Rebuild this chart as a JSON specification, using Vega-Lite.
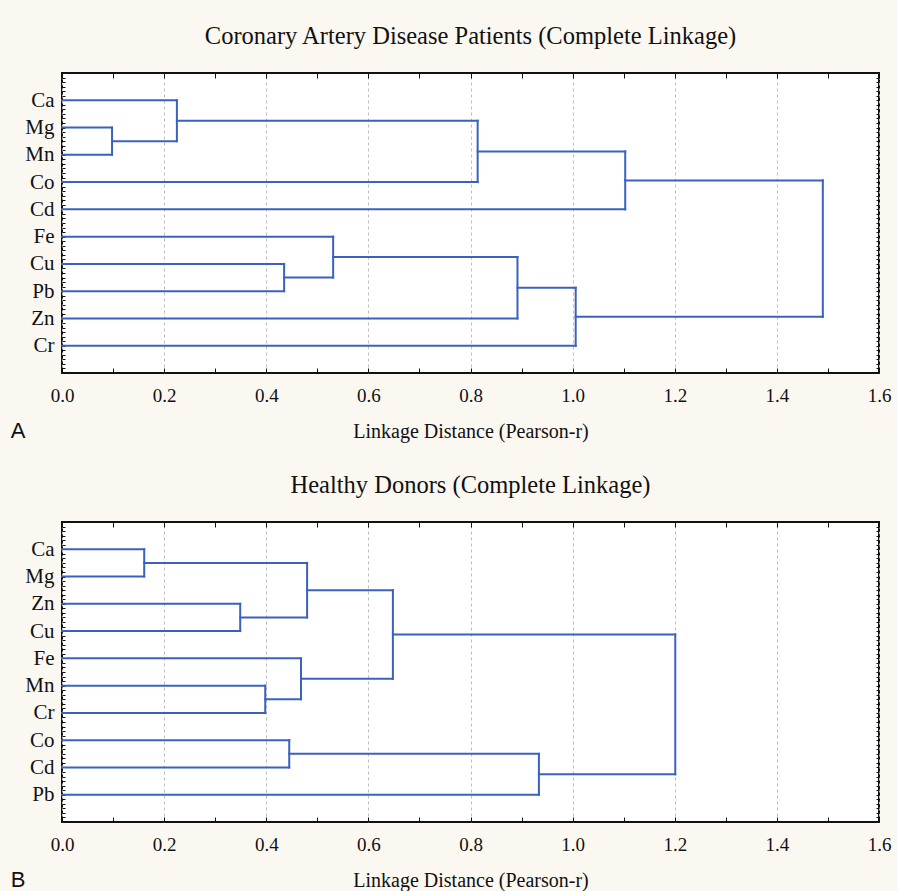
{
  "$schema": "https://vega.github.io/schema/vega-lite/v6.json",
  "background": "#fbf8f1",
  "padding": {"left": 10, "top": 22, "right": 5, "bottom": 0},
  "config": {
    "view": {"fill": "white", "stroke": "#111111", "strokeWidth": 2},
    "title": {"font": "Liberation Serif", "fontSize": 24.5, "fontWeight": "normal", "color": "#111111"}
  },
  "datasets": {
    "A": [
      {"h": 0.098, "ya": 2, "yb": 3, "ha": 0, "hb": 0},
      {"h": 0.225, "ya": 1, "yb": 2.5, "ha": 0, "hb": 0.098},
      {"h": 0.814, "ya": 1.75, "yb": 4, "ha": 0.225, "hb": 0},
      {"h": 1.103, "ya": 2.875, "yb": 5, "ha": 0.814, "hb": 0},
      {"h": 0.435, "ya": 7, "yb": 8, "ha": 0, "hb": 0},
      {"h": 0.531, "ya": 6, "yb": 7.5, "ha": 0, "hb": 0.435},
      {"h": 0.892, "ya": 6.75, "yb": 9, "ha": 0.531, "hb": 0},
      {"h": 1.006, "ya": 7.875, "yb": 10, "ha": 0.892, "hb": 0},
      {"h": 1.49, "ya": 3.9375, "yb": 8.9375, "ha": 1.103, "hb": 1.006}
    ],
    "B": [
      {"h": 0.161, "ya": 1, "yb": 2, "ha": 0, "hb": 0},
      {"h": 0.349, "ya": 3, "yb": 4, "ha": 0, "hb": 0},
      {"h": 0.48, "ya": 1.5, "yb": 3.5, "ha": 0.161, "hb": 0.349},
      {"h": 0.398, "ya": 6, "yb": 7, "ha": 0, "hb": 0},
      {"h": 0.468, "ya": 5, "yb": 6.5, "ha": 0, "hb": 0.398},
      {"h": 0.648, "ya": 2.5, "yb": 5.75, "ha": 0.48, "hb": 0.468},
      {"h": 0.445, "ya": 8, "yb": 9, "ha": 0, "hb": 0},
      {"h": 0.934, "ya": 8.5, "yb": 10, "ha": 0.445, "hb": 0},
      {"h": 1.201, "ya": 4.125, "yb": 9.25, "ha": 0.648, "hb": 0.934}
    ]
  },
  "spacing": 29,
  "vconcat": [
    {
      "title": {"text": "A", "orient": "bottom", "anchor": "start", "font": "Liberation Sans", "fontSize": 22, "dx": -13, "dy": -25, "color": "#111111"},
      "vconcat": [
        {
          "width": 817, "height": 300,
          "title": {"text": "Coronary Artery Disease Patients (Complete Linkage)", "offset": 13},
          "data": {"name": "A"},
          "layer": [
            {
              "mark": {"type": "rule", "color": "#3a62bd", "strokeWidth": 2, "strokeCap": "square"},
              "encoding": {
                "x": {"field": "h", "type": "quantitative", "scale": {"domain": [0, 1.6], "nice": false, "zero": false},
                  "axis": {"orient": "bottom", "values": [0,0.1,0.2,0.3,0.4,0.5,0.6,0.7,0.8,0.9,1,1.1,1.2,1.3,1.4,1.5,1.6],
                    "labelExpr": "abs(datum.value*5-round(datum.value*5))<0.01 ? format(datum.value,'.1f') : ''",
                    "labelFont": "Liberation Serif", "labelFontSize": 19, "labelColor": "#111111", "labelFlush": false, "labelOverlap": false,
                    "tickSize": -5, "tickColor": "#111111", "tickWidth": 1, "labelPadding": 18, "domain": false,
                    "grid": true, "gridColor": "#bdbdbd", "gridDash": [3, 3], "gridWidth": 1,
                    "gridOpacity": {"condition": {"test": "abs(datum.value*5-round(datum.value*5))>0.01", "value": 0}, "value": 1},
                    "title": "Linkage Distance (Pearson-r)", "titleFont": "Liberation Serif", "titleFontSize": 20, "titleFontWeight": "normal", "titleColor": "#111111", "titlePadding": 16}},
                "y": {"field": "ya", "type": "quantitative", "scale": {"domain": [0, 11], "reverse": true, "nice": false, "zero": false},
                  "axis": {"orient": "left", "values": [0,0.1667,0.3333,0.5,0.6667,0.8333,1,1.1667,1.3333,1.5,1.6667,1.8333,2,2.1667,2.3333,2.5,2.6667,2.8333,3,3.1667,3.3333,3.5,3.6667,3.8333,4,4.1667,4.3333,4.5,4.6667,4.8333,5,5.1667,5.3333,5.5,5.6667,5.8333,6,6.1667,6.3333,6.5,6.6667,6.8333,7,7.1667,7.3333,7.5,7.6667,7.8333,8,8.1667,8.3333,8.5,8.6667,8.8333,9,9.1667,9.3333,9.5,9.6667,9.8333,10,10.1667,10.3333,10.5,10.6667,10.8333,11],
                    "labelExpr": "abs(datum.value-round(datum.value))<0.01 && datum.value>0.5 && datum.value<10.5 ? ['','Ca','Mg','Mn','Co','Cd','Fe','Cu','Pb','Zn','Cr'][round(datum.value)] : ''",
                    "labelFont": "Liberation Serif", "labelFontSize": 21, "labelColor": "#111111", "labelFlush": false, "labelOverlap": false,
                    "tickSize": -3, "tickColor": "#111111", "tickWidth": 1, "labelPadding": 11, "domain": false, "grid": false, "title": null}},
                "y2": {"field": "yb"}
              }
            },
            {
              "mark": {"type": "rule", "color": "#3a62bd", "strokeWidth": 2, "strokeCap": "square"},
              "encoding": {
                "x": {"field": "ha", "type": "quantitative", "axis": null},
                "x2": {"field": "h"},
                "y": {"field": "ya", "type": "quantitative", "axis": null}
              }
            },
            {
              "mark": {"type": "rule", "color": "#3a62bd", "strokeWidth": 2, "strokeCap": "square"},
              "encoding": {
                "x": {"field": "hb", "type": "quantitative", "axis": null},
                "x2": {"field": "h"},
                "y": {"field": "yb", "type": "quantitative", "axis": null}
              }
            },
            {
              "mark": {"type": "rule", "opacity": 0},
              "encoding": {
                "x": {"field": "h", "type": "quantitative",
                  "axis": {"orient": "top", "values": [0,0.1,0.2,0.3,0.4,0.5,0.6,0.7,0.8,0.9,1,1.1,1.2,1.3,1.4,1.5,1.6], "labels": false, "tickSize": -5, "tickColor": "#111111", "domain": false, "grid": false, "title": null}},
                "y": {"field": "ya", "type": "quantitative",
                  "axis": {"orient": "right", "values": [0,0.1667,0.3333,0.5,0.6667,0.8333,1,1.1667,1.3333,1.5,1.6667,1.8333,2,2.1667,2.3333,2.5,2.6667,2.8333,3,3.1667,3.3333,3.5,3.6667,3.8333,4,4.1667,4.3333,4.5,4.6667,4.8333,5,5.1667,5.3333,5.5,5.6667,5.8333,6,6.1667,6.3333,6.5,6.6667,6.8333,7,7.1667,7.3333,7.5,7.6667,7.8333,8,8.1667,8.3333,8.5,8.6667,8.8333,9,9.1667,9.3333,9.5,9.6667,9.8333,10,10.1667,10.3333,10.5,10.6667,10.8333,11], "labels": false, "tickSize": -3, "tickColor": "#111111", "domain": false, "grid": false, "title": null}}
              }
            }
          ],
          "resolve": {"axis": {"x": "independent", "y": "independent"}}
        }
      ]
    },
    {
      "title": {"text": "B", "orient": "bottom", "anchor": "start", "font": "Liberation Sans", "fontSize": 22, "dx": -13, "dy": -25, "color": "#111111"},
      "vconcat": [
        {
          "width": 817, "height": 300,
          "title": {"text": "Healthy Donors (Complete Linkage)", "offset": 13},
          "data": {"name": "B"},
          "layer": [
            {
              "mark": {"type": "rule", "color": "#3a62bd", "strokeWidth": 2, "strokeCap": "square"},
              "encoding": {
                "x": {"field": "h", "type": "quantitative", "scale": {"domain": [0, 1.6], "nice": false, "zero": false},
                  "axis": {"orient": "bottom", "values": [0,0.1,0.2,0.3,0.4,0.5,0.6,0.7,0.8,0.9,1,1.1,1.2,1.3,1.4,1.5,1.6],
                    "labelExpr": "abs(datum.value*5-round(datum.value*5))<0.01 ? format(datum.value,'.1f') : ''",
                    "labelFont": "Liberation Serif", "labelFontSize": 19, "labelColor": "#111111", "labelFlush": false, "labelOverlap": false,
                    "tickSize": -5, "tickColor": "#111111", "tickWidth": 1, "labelPadding": 18, "domain": false,
                    "grid": true, "gridColor": "#bdbdbd", "gridDash": [3, 3], "gridWidth": 1,
                    "gridOpacity": {"condition": {"test": "abs(datum.value*5-round(datum.value*5))>0.01", "value": 0}, "value": 1},
                    "title": "Linkage Distance (Pearson-r)", "titleFont": "Liberation Serif", "titleFontSize": 20, "titleFontWeight": "normal", "titleColor": "#111111", "titlePadding": 16}},
                "y": {"field": "ya", "type": "quantitative", "scale": {"domain": [0, 11], "reverse": true, "nice": false, "zero": false},
                  "axis": {"orient": "left", "values": [0,0.1667,0.3333,0.5,0.6667,0.8333,1,1.1667,1.3333,1.5,1.6667,1.8333,2,2.1667,2.3333,2.5,2.6667,2.8333,3,3.1667,3.3333,3.5,3.6667,3.8333,4,4.1667,4.3333,4.5,4.6667,4.8333,5,5.1667,5.3333,5.5,5.6667,5.8333,6,6.1667,6.3333,6.5,6.6667,6.8333,7,7.1667,7.3333,7.5,7.6667,7.8333,8,8.1667,8.3333,8.5,8.6667,8.8333,9,9.1667,9.3333,9.5,9.6667,9.8333,10,10.1667,10.3333,10.5,10.6667,10.8333,11],
                    "labelExpr": "abs(datum.value-round(datum.value))<0.01 && datum.value>0.5 && datum.value<10.5 ? ['','Ca','Mg','Zn','Cu','Fe','Mn','Cr','Co','Cd','Pb'][round(datum.value)] : ''",
                    "labelFont": "Liberation Serif", "labelFontSize": 21, "labelColor": "#111111", "labelFlush": false, "labelOverlap": false,
                    "tickSize": -3, "tickColor": "#111111", "tickWidth": 1, "labelPadding": 11, "domain": false, "grid": false, "title": null}},
                "y2": {"field": "yb"}
              }
            },
            {
              "mark": {"type": "rule", "color": "#3a62bd", "strokeWidth": 2, "strokeCap": "square"},
              "encoding": {
                "x": {"field": "ha", "type": "quantitative", "axis": null},
                "x2": {"field": "h"},
                "y": {"field": "ya", "type": "quantitative", "axis": null}
              }
            },
            {
              "mark": {"type": "rule", "color": "#3a62bd", "strokeWidth": 2, "strokeCap": "square"},
              "encoding": {
                "x": {"field": "hb", "type": "quantitative", "axis": null},
                "x2": {"field": "h"},
                "y": {"field": "yb", "type": "quantitative", "axis": null}
              }
            },
            {
              "mark": {"type": "rule", "opacity": 0},
              "encoding": {
                "x": {"field": "h", "type": "quantitative",
                  "axis": {"orient": "top", "values": [0,0.1,0.2,0.3,0.4,0.5,0.6,0.7,0.8,0.9,1,1.1,1.2,1.3,1.4,1.5,1.6], "labels": false, "tickSize": -5, "tickColor": "#111111", "domain": false, "grid": false, "title": null}},
                "y": {"field": "ya", "type": "quantitative",
                  "axis": {"orient": "right", "values": [0,0.1667,0.3333,0.5,0.6667,0.8333,1,1.1667,1.3333,1.5,1.6667,1.8333,2,2.1667,2.3333,2.5,2.6667,2.8333,3,3.1667,3.3333,3.5,3.6667,3.8333,4,4.1667,4.3333,4.5,4.6667,4.8333,5,5.1667,5.3333,5.5,5.6667,5.8333,6,6.1667,6.3333,6.5,6.6667,6.8333,7,7.1667,7.3333,7.5,7.6667,7.8333,8,8.1667,8.3333,8.5,8.6667,8.8333,9,9.1667,9.3333,9.5,9.6667,9.8333,10,10.1667,10.3333,10.5,10.6667,10.8333,11], "labels": false, "tickSize": -3, "tickColor": "#111111", "domain": false, "grid": false, "title": null}}
              }
            }
          ],
          "resolve": {"axis": {"x": "independent", "y": "independent"}}
        }
      ]
    }
  ]
}
